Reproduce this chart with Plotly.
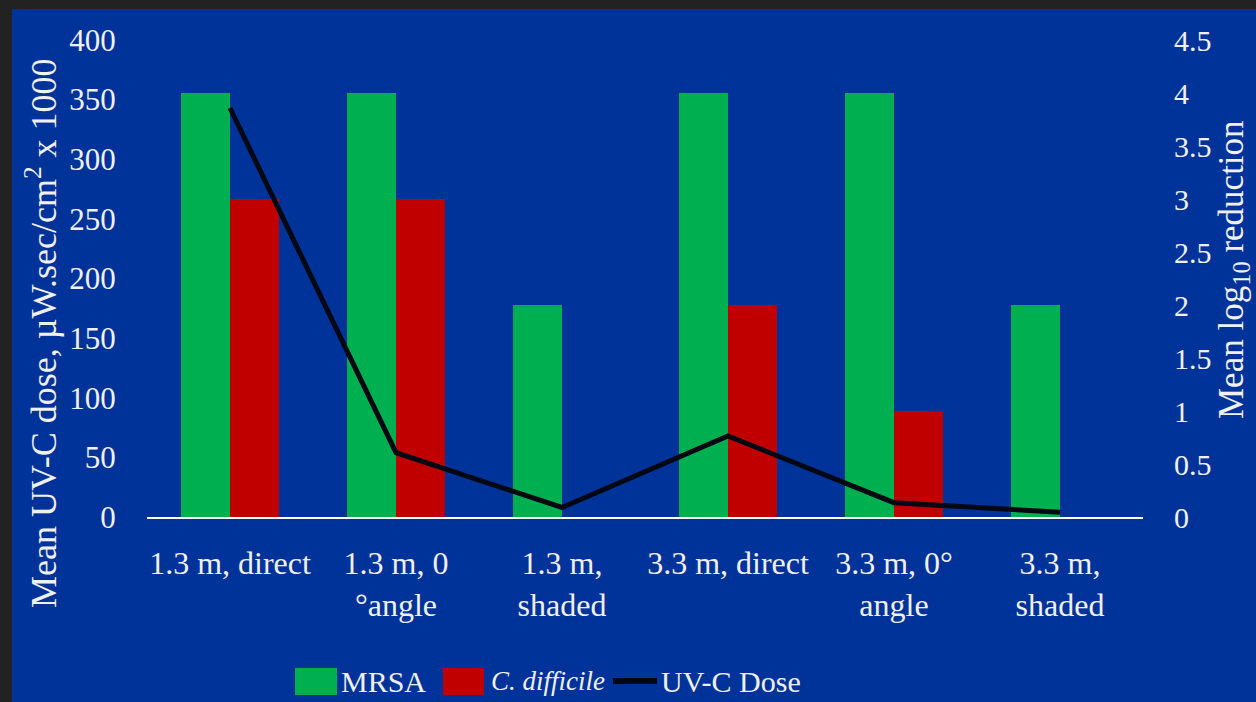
import plotly.graph_objects as go

# Chart data
categories = [
    "1.3 m, direct",
    "1.3 m, 0<br>°angle",
    "1.3 m,<br>shaded",
    "3.3 m, direct",
    "3.3 m, 0°<br>angle",
    "3.3 m,<br>shaded",
]
mrsa_log_reduction = [4, 4, 2, 4, 4, 2]
cdiff_log_reduction = [3, 3, 0, 2, 1, 0]
uvc_dose = [343, 54, 8, 68, 12, 4]

left_ticks = [0, 50, 100, 150, 200, 250, 300, 350, 400]
right_ticks = [0, 0.5, 1, 1.5, 2, 2.5, 3, 3.5, 4, 4.5]
right_tick_text = ["0", "0.5", "1", "1.5", "2", "2.5", "3", "3.5", "4", "4.5"]

# Styling
W, H = 1256, 702
ML, MR, MT, MB = 147, 113, 40, 185
BG = "#003399"
FRAME = "#222222"
GREEN = "#00b050"
RED = "#c00000"
LINE = "#000814"
TXT = "#f0f0f0"
FONT = "Liberation Serif"

PW = W - ML - MR
PH = H - MT - MB


def px_x(x):
    return (x - ML) / PW


def px_y(y):
    return (H - MB - y) / PH


fig = go.Figure()

fig.add_trace(go.Bar(
    x=categories, y=mrsa_log_reduction, name="MRSA",
    marker=dict(color=GREEN, line=dict(width=0)), yaxis="y",
))
fig.add_trace(go.Bar(
    x=categories, y=cdiff_log_reduction, name="C. difficile",
    marker=dict(color=RED, line=dict(width=0)), yaxis="y",
))
fig.add_trace(go.Scatter(
    x=categories, y=uvc_dose, name="UV-C Dose", mode="lines",
    line=dict(color=LINE, width=5), yaxis="y2",
))

fig.update_layout(
    width=W, height=H,
    margin=dict(l=ML, r=MR, t=MT, b=MB),
    paper_bgcolor=BG, plot_bgcolor="rgba(0,0,0,0)",
    barmode="group", bargap=0.41, bargroupgap=0,
    showlegend=False,
    font=dict(family=FONT, color=TXT, size=30),
    xaxis=dict(
        showgrid=False, zeroline=False,
        showline=True, linecolor="#ffffff", linewidth=2,
        ticks="outside", ticklen=17, tickcolor="rgba(0,0,0,0)",
        tickfont=dict(family=FONT, size=32, color=TXT),
    ),
    yaxis=dict(
        side="right", range=[0, 4.5],
        tickvals=right_ticks, ticktext=right_tick_text,
        showgrid=False, zeroline=False, showline=False,
        ticks="outside", ticklen=24, tickcolor="rgba(0,0,0,0)",
        tickfont=dict(family=FONT, size=30, color=TXT),
    ),
    yaxis2=dict(
        overlaying="y", side="left", range=[0, 400],
        tickvals=left_ticks,
        showgrid=False, zeroline=False, showline=False,
        ticks="outside", ticklen=24, tickcolor="rgba(0,0,0,0)",
        tickfont=dict(family=FONT, size=31, color=TXT),
    ),
)

# Dark frame along the top and left edges
fig.add_shape(type="rect", xref="paper", yref="paper", layer="above",
              x0=px_x(-5), x1=px_x(W + 5), y0=px_y(9), y1=px_y(-5),
              fillcolor=FRAME, line=dict(width=0))
fig.add_shape(type="rect", xref="paper", yref="paper", layer="above",
              x0=px_x(-5), x1=px_x(12), y0=px_y(H + 5), y1=px_y(-5),
              fillcolor=FRAME, line=dict(width=0))

# Axis titles
fig.add_annotation(
    xref="paper", yref="paper", x=px_x(42), y=px_y(333),
    text="Mean UV-C dose, µW.sec/cm<sup>2</sup> x 1000",
    textangle=-90, showarrow=False, xanchor="center", yanchor="middle",
    font=dict(family=FONT, size=36, color=TXT),
)
fig.add_annotation(
    xref="paper", yref="paper", x=px_x(1233), y=px_y(270),
    text="Mean log<sub>10</sub> reduction",
    textangle=-90, showarrow=False, xanchor="center", yanchor="middle",
    font=dict(family=FONT, size=35, color=TXT),
)

# Legend along the bottom
LEG_Y = 681
fig.add_shape(type="rect", xref="paper", yref="paper",
              x0=px_x(295), x1=px_x(337), y0=px_y(695), y1=px_y(668),
              fillcolor=GREEN, line=dict(width=0))
fig.add_shape(type="rect", xref="paper", yref="paper",
              x0=px_x(443), x1=px_x(484), y0=px_y(695), y1=px_y(668),
              fillcolor=RED, line=dict(width=0))
fig.add_shape(type="line", xref="paper", yref="paper",
              x0=px_x(613), x1=px_x(657), y0=px_y(LEG_Y), y1=px_y(LEG_Y),
              line=dict(color=LINE, width=6))
for x_left, label, size in [(339, "MRSA", 30),
                            (489, "<i>C. difficile</i>", 27),
                            (659, "UV-C Dose", 30)]:
    fig.add_annotation(
        xref="paper", yref="paper", x=px_x(x_left), y=px_y(LEG_Y),
        text=label, showarrow=False, xanchor="left", yanchor="middle",
        font=dict(family=FONT, size=size, color=TXT),
    )

fig.write_html("out.html")
